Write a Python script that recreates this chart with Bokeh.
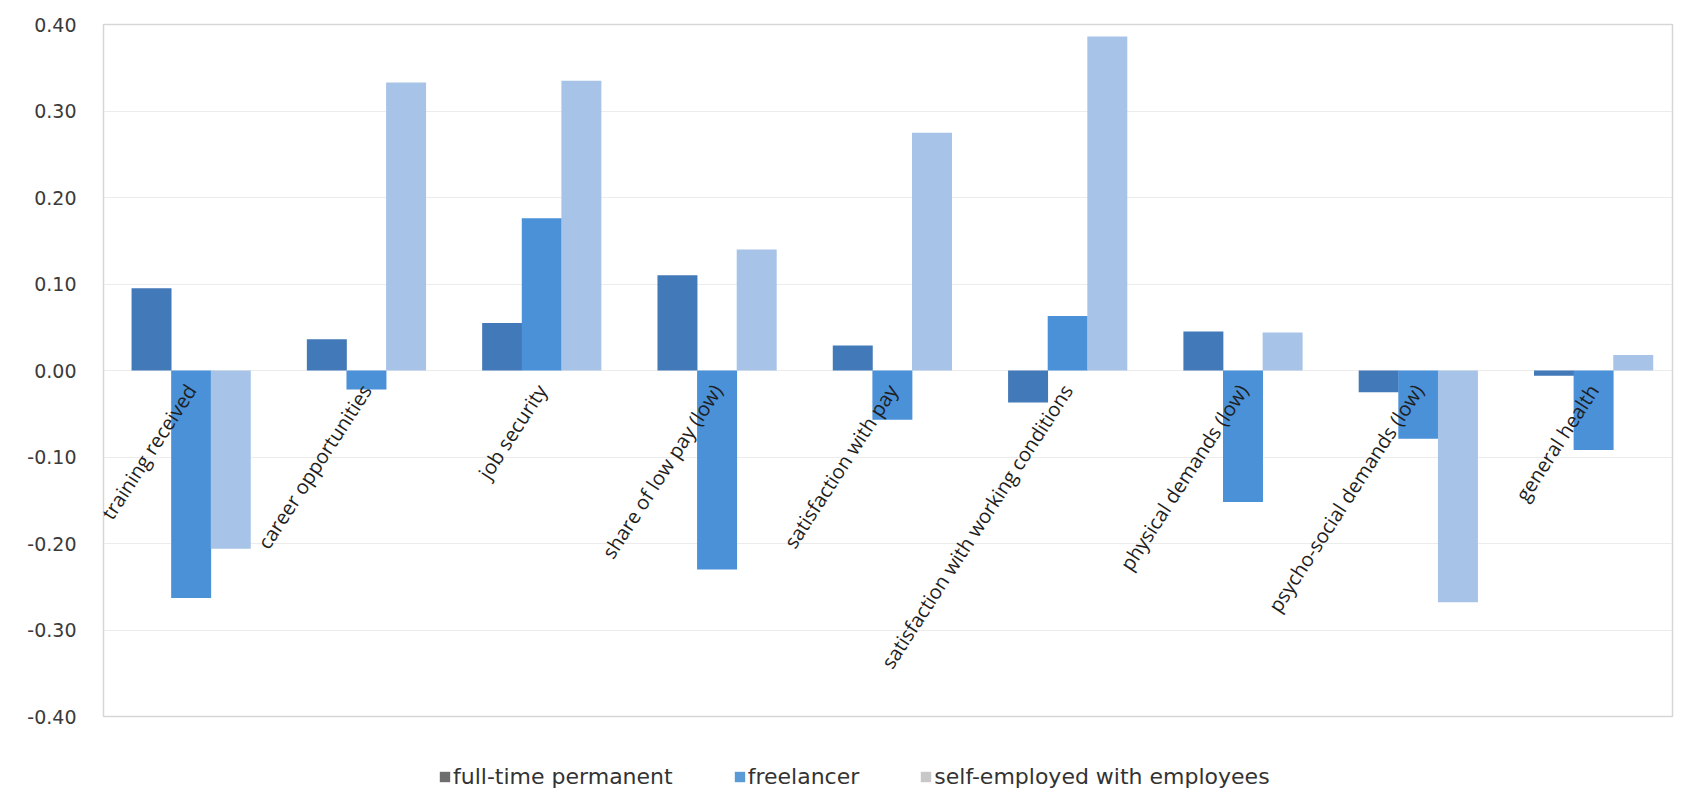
import math
import numpy as np
from bokeh.plotting import figure
from bokeh.layouts import column
from bokeh.models import (ColumnDataSource, Range1d, FixedTicker, NumeralTickFormatter,
                          Legend, LegendItem)
from bokeh.core.properties import value
from bokeh.embed import file_html
from bokeh.resources import INLINE

# Job-quality indicators, difference versus reference group
categories = [
    "training received",
    "career opportunities",
    "job security",
    "share of low pay (low)",
    "satisfaction with pay",
    "satisfaction with working conditions",
    "physical demands (low)",
    "psycho-social demands (low)",
    "general health",
]
full_time_permanent = [0.095, 0.036, 0.055, 0.110, 0.029, -0.037, 0.045, -0.025, -0.006]
freelancer = [-0.263, -0.022, 0.176, -0.230, -0.057, 0.063, -0.152, -0.079, -0.092]
self_employed_with_employees = [-0.206, 0.333, 0.335, 0.140, 0.275, 0.386, 0.044, -0.268, 0.018]

series_names = ["full-time permanent", "freelancer", "self-employed with employees"]
y_ticks = [-0.4, -0.3, -0.2, -0.1, 0.0, 0.1, 0.2, 0.3, 0.4]

bar_colors = ["#4279b8", "#4a91d8", "#a7c3e7"]
legend_colors = ["#6e6e6e", "#5b9bd5", "#c8c8c8"]

pos = np.arange(1, len(categories) + 1)
bar_w = 0.228

p = figure(width=1681, height=726, output_backend="svg", toolbar_location=None,
           x_range=Range1d(0.5, 9.45), y_range=Range1d(-0.4, 0.4),
           min_border_left=103, min_border_right=9, min_border_top=24, min_border_bottom=10)

p.background_fill_color = "white"
p.border_fill_color = "white"
p.outline_line_color = "#d6d6d6"
p.outline_line_width = 1.5

p.xaxis.visible = False
p.xgrid.visible = False
p.ygrid.grid_line_color = "#ececec"
p.ygrid.grid_line_width = 1

ax = p.yaxis[0]
ax.ticker = FixedTicker(ticks=y_ticks)
ax.formatter = NumeralTickFormatter(format="0.00")
ax.axis_line_color = None
ax.major_tick_line_color = None
ax.minor_tick_line_color = None
ax.major_label_standoff = 21
ax.major_label_text_font = "DejaVu Sans"
ax.major_label_text_font_size = "19px"
ax.major_label_text_color = "#3a3a3a"

series = [full_time_permanent, freelancer, self_employed_with_employees]
offsets = [-0.226, 0.0, 0.226]
for vals, off, col in zip(series, offsets, bar_colors):
    src = ColumnDataSource(dict(x=pos + off, top=vals))
    p.vbar(x="x", top="top", bottom=0, width=bar_w, source=src,
           fill_color=col, line_color=None)

# Category labels sit along the zero line, slanted upward to the right
lab_src = ColumnDataSource(dict(x=pos, y=[0.0] * len(categories), text=categories))
p.text(x="x", y="y", text="text", source=lab_src, angle=math.radians(57),
       text_align="right", text_baseline="middle", x_offset=0, y_offset=16,
       text_font=value("Open Sans"), text_font_size="20px", text_color="#1e1e1e")

# Legend strip under the chart
leg = figure(width=1681, height=74, output_backend="svg", toolbar_location=None,
             x_range=Range1d(0, 1), y_range=Range1d(0, 1),
             x_axis_location=None, y_axis_location=None,
             min_border=0, min_border_left=0, min_border_right=0,
             min_border_top=0, min_border_bottom=0)
leg.grid.visible = False
leg.outline_line_color = None
leg.background_fill_color = "white"
leg.border_fill_color = "white"

items = []
for name, col in zip(series_names, legend_colors):
    # swatch renderer kept outside the visible range; only its legend entry shows
    r = leg.quad(left=[5], right=[6], top=[5], bottom=[4], fill_color=col, line_color=None)
    items.append(LegendItem(label=name, renderers=[r]))

legend = Legend(items=items, orientation="horizontal", location=(335, 11),
                glyph_width=13, glyph_height=13, label_standoff=2, spacing=60,
                padding=4, margin=0, border_line_color=None, background_fill_alpha=0,
                label_text_font="DejaVu Sans", label_text_font_size="22px",
                label_text_color="#333333")
leg.add_layout(legend, "center")

layout = column(p, leg, spacing=0)
open("out.html", "w").write(file_html(layout, INLINE))
